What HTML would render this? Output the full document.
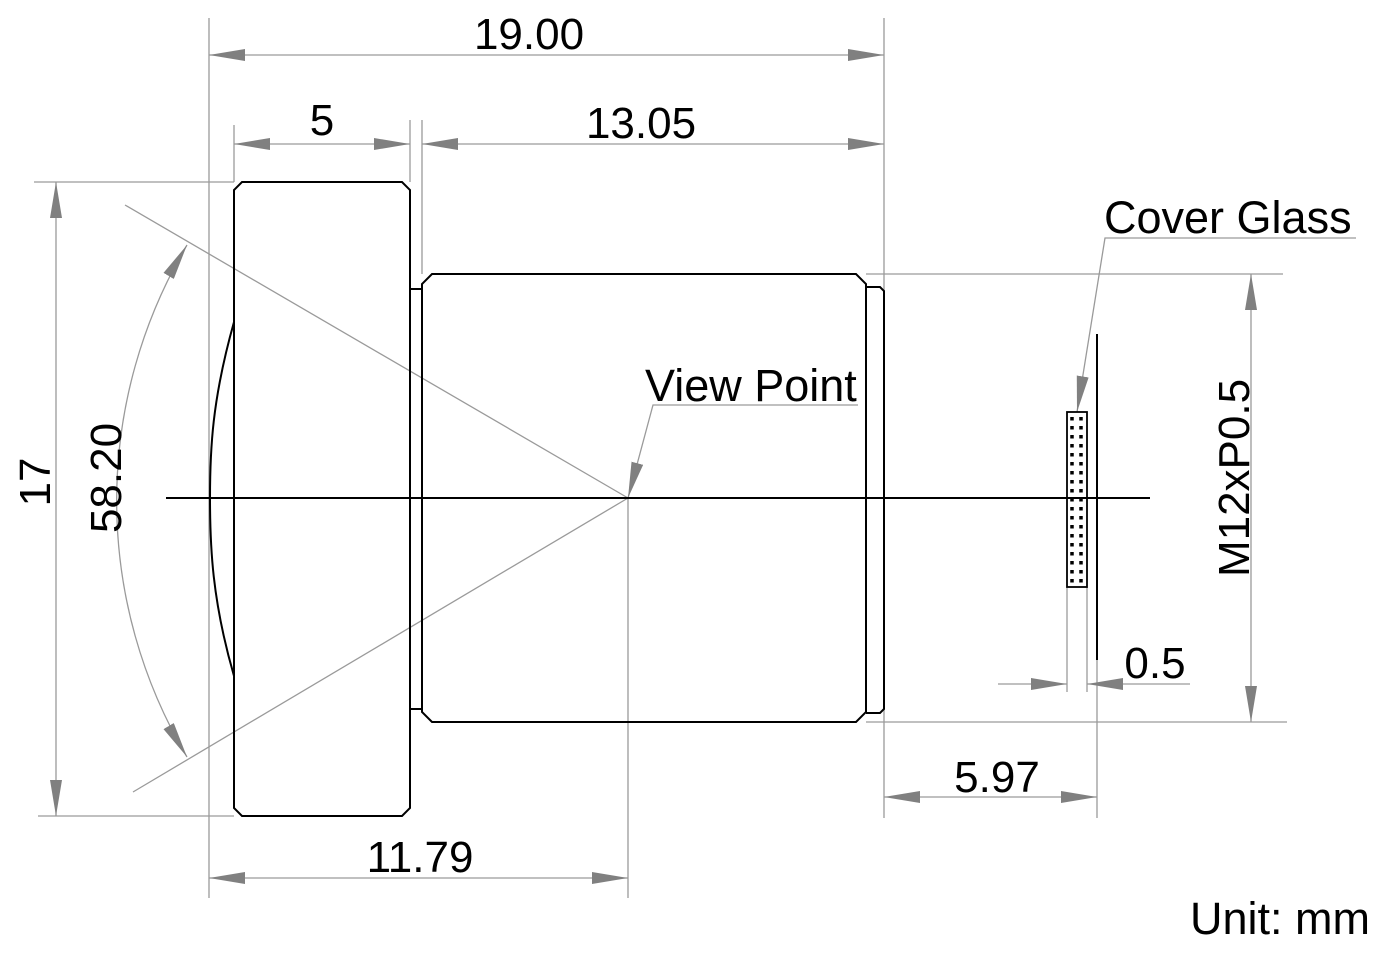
<!DOCTYPE html>
<html><head><style>html,body{margin:0;padding:0;background:#fff}svg{display:block}</style></head><body>
<svg width="1395" height="966" viewBox="0 0 1395 966" xmlns="http://www.w3.org/2000/svg" font-family="Liberation Sans, sans-serif">
<defs>
<marker id="a" viewBox="0 0 36 12" refX="36" refY="6" markerWidth="36" markerHeight="12" markerUnits="userSpaceOnUse" orient="auto-start-reverse"><path d="M0,0 L36,6 L0,12 z" fill="#808080"/></marker>
</defs>
<g stroke="#9a9a9a" stroke-width="1.3" fill="none">
<line x1="209" y1="18" x2="209" y2="898"/>
<line x1="884" y1="18" x2="884" y2="818"/>
<line x1="234" y1="125" x2="234" y2="182"/>
<line x1="410" y1="120" x2="410" y2="182"/>
<line x1="422" y1="120" x2="422" y2="274"/>
<line x1="34" y1="182" x2="234" y2="182"/>
<line x1="38" y1="816" x2="234" y2="816"/>
<line x1="866" y1="274" x2="1283" y2="274"/>
<line x1="866" y1="722" x2="1287" y2="722"/>
<line x1="628" y1="498" x2="628" y2="898"/>
<line x1="1097" y1="660" x2="1097" y2="818"/>
<line x1="1067" y1="587" x2="1067" y2="692"/>
<line x1="1087" y1="587" x2="1087" y2="692"/>
<line x1="125" y1="205" x2="628" y2="498"/>
<line x1="133" y1="792" x2="628" y2="498"/>
<line x1="209" y1="55" x2="884" y2="55" marker-start="url(#a)" marker-end="url(#a)"/>
<line x1="234" y1="144" x2="410" y2="144" marker-start="url(#a)" marker-end="url(#a)"/>
<line x1="422" y1="144" x2="884" y2="144" marker-start="url(#a)" marker-end="url(#a)"/>
<line x1="56" y1="182" x2="56" y2="816" marker-start="url(#a)" marker-end="url(#a)"/>
<line x1="1251" y1="274" x2="1251" y2="722" marker-start="url(#a)" marker-end="url(#a)"/>
<line x1="209" y1="878" x2="628" y2="878" marker-start="url(#a)" marker-end="url(#a)"/>
<line x1="884" y1="797" x2="1097" y2="797" marker-start="url(#a)" marker-end="url(#a)"/>
<line x1="998" y1="684" x2="1067" y2="684" marker-end="url(#a)"/>
<line x1="1190" y1="684" x2="1087" y2="684" marker-end="url(#a)"/>
<path d="M187,245 A501,501 0 0 0 187,757" marker-start="url(#a)" marker-end="url(#a)"/>
<polyline points="858,405 653,405 628,498" marker-end="url(#a)" />
<polyline points="1356,238 1105,238 1077,412" marker-end="url(#a)"/>
</g>
<g stroke="#000" stroke-width="2" fill="none">
<line x1="166" y1="498" x2="1150" y2="498"/>
<path d="M242,182 L402,182 L410,190 L410,808 L402,816 L242,816 L234,808 L234,190 Z"/>
<path d="M234,322 C212,400 210,450 210,498 C210,546 212,600 234,676"/>
<path d="M410,289 L422,289 M410,709 L422,709"/>
<path d="M432,274 L856,274 L866,284 L866,712 L856,722 L432,722 L422,712 L422,284 Z"/>
<path d="M866,287 L880,287 L884,291 L884,709 L880,713 L866,713"/>
<line x1="1097" y1="334" x2="1097" y2="660"/>
<rect x="1067" y="412" width="20" height="175" stroke-width="1.8"/>
</g>
<g stroke="#000" stroke-width="3.5" stroke-dasharray="3.5,5.5">
<line x1="1072" y1="417" x2="1072" y2="584"/>
<line x1="1081" y1="417" x2="1081" y2="584"/>
</g>
<g fill="#000" font-size="44">
<text x="529" y="49" text-anchor="middle">19.00</text>
<text x="322" y="135" text-anchor="middle">5</text>
<text x="641" y="138" text-anchor="middle">13.05</text>
<text x="420" y="872" text-anchor="middle">11.79</text>
<text x="997" y="792" text-anchor="middle">5.97</text>
<text x="1155" y="678" text-anchor="middle">0.5</text>
<text x="645" y="401" font-size="45">View Point</text>
<text x="1104" y="233" font-size="45">Cover Glass</text>
<text x="1370" y="934" text-anchor="end" font-size="45">Unit: mm</text>
<text transform="translate(50,482) rotate(-90)" text-anchor="middle">17</text>
<text transform="translate(121,478) rotate(-90)" text-anchor="middle">58.20</text>
<text transform="translate(1249,478) rotate(-90)" text-anchor="middle">M12xP0.5</text>
</g>
</svg>
</body></html>
